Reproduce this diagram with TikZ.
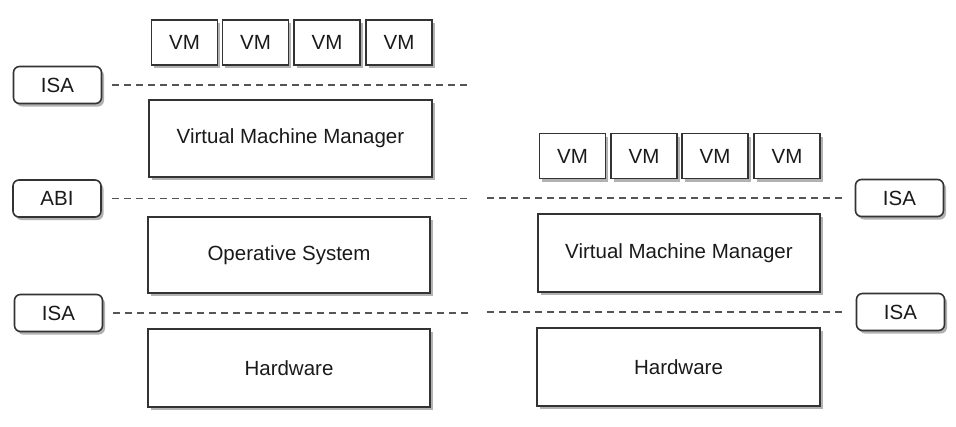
\documentclass[tikz,border=0pt]{standalone}
\usepackage{fontspec}
\setmainfont{Liberation Sans}
\usetikzlibrary{shadows}
\definecolor{edge}{HTML}{333333}
\definecolor{txt}{HTML}{1A1A1A}
\definecolor{dash}{HTML}{555555}
\begin{document}
\begin{tikzpicture}[x=1pt,y=-1pt,
  shade box/.style={draw=edge, line width=1.6pt, fill=white, text=txt,
    font=\fontsize{20.5}{24}\selectfont, inner sep=0pt,
    drop shadow={shadow xshift=2.5pt, shadow yshift=-3pt, opacity=0.3, fill=black}},
  layer/.style={shade box, rectangle},
  vmbox/.style={shade box, rectangle, minimum width=66pt, minimum height=45pt},
  iface/.style={shade box, rounded corners=6pt, minimum width=88pt, minimum height=37pt},
  level/.style={draw=dash, line width=1.4pt, dash pattern=on 7pt off 5pt}
]
\useasboundingbox (0,0) rectangle (956,426);
% left stack
\node[vmbox] (lvm1) at (184.5,42.5) {VM};
\node[vmbox] (lvm2) at (255.5,42.5) {VM};
\node[vmbox] (lvm3) at (327,42.5) {VM};
\node[vmbox] (lvm4) at (399,42.5) {VM};
\node[iface] (lisa1) at (57.5,85) {ISA};
\node[layer, minimum width=283pt, minimum height=77pt] (lvmm) at (290.5,138.5) {Virtual Machine Manager};
\node[iface] (labi) at (57,198.5) {ABI};
\node[layer, minimum width=282pt, minimum height=76pt] (los) at (289,255) {Operative System};
\node[iface] (lisa2) at (58.5,313) {ISA};
\node[layer, minimum width=282pt, minimum height=78pt] (lhw) at (289,368) {Hardware};
\coordinate (le1) at (470,85);
\coordinate (le2) at (470,198.5);
\coordinate (le3) at (470,313);
\draw[level, shorten <=10pt] (lisa1.east) -- (le1);
\draw[level, shorten <=10pt] (labi.east) -- (le2);
\draw[level, shorten <=10pt] (lisa2.east) -- (le3);
% right stack
\node[vmbox] (rvm1) at (572.5,156) {VM};
\node[vmbox] (rvm2) at (644,156) {VM};
\node[vmbox] (rvm3) at (715,156) {VM};
\node[vmbox] (rvm4) at (787,156) {VM};
\node[iface] (risa1) at (899.5,198) {ISA};
\node[layer, minimum width=282pt, minimum height=78pt] (rvmm) at (679,253) {Virtual Machine Manager};
\node[iface] (risa2) at (900.5,312) {ISA};
\node[layer, minimum width=283pt, minimum height=78pt] (rhw) at (678.5,367) {Hardware};
\coordinate (re1) at (487,198);
\coordinate (re2) at (487,312);
\draw[level, shorten >=13pt] (re1) -- (risa1.west);
\draw[level, shorten >=13pt] (re2) -- (risa2.west);
\end{tikzpicture}
\end{document}
